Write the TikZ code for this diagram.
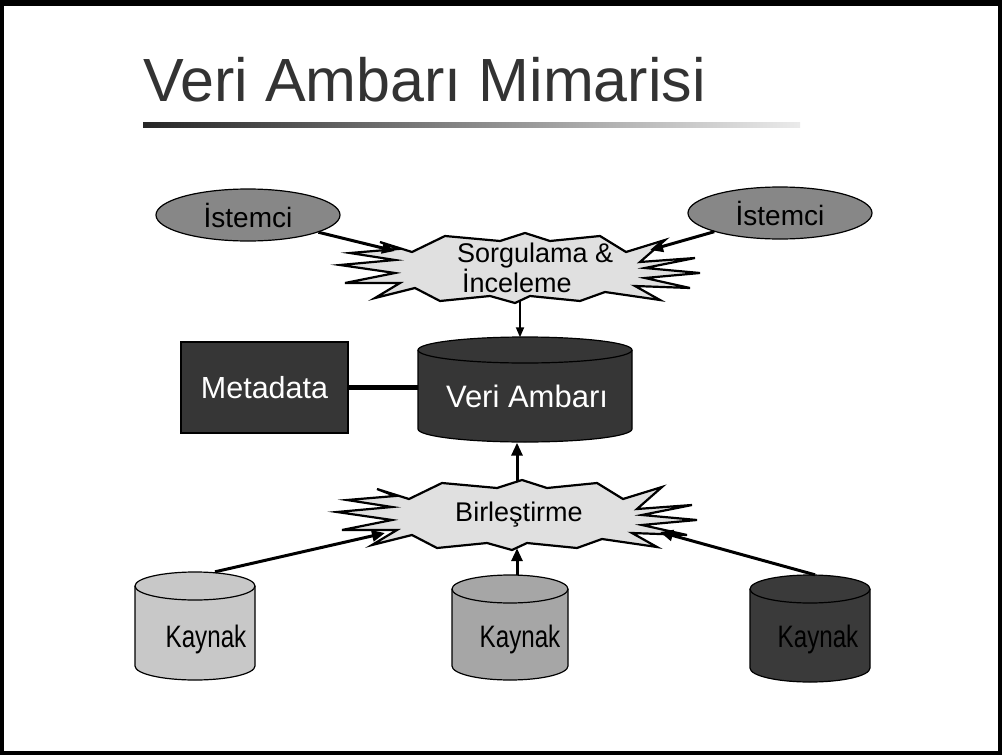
\documentclass[tikz,border=0pt]{standalone}
\usepackage{fontspec}
\setmainfont{Liberation Sans}
\usetikzlibrary{arrows.meta,shapes.geometric}
\definecolor{darkfill}{HTML}{363636}
\definecolor{ellfill}{HTML}{878787}
\definecolor{burstfill}{HTML}{E0E0E0}
\definecolor{kay1}{HTML}{C8C8C8}
\definecolor{kay2}{HTML}{A6A6A6}
\definecolor{kay3}{HTML}{3A3A3A}
\newcommand\drawcyl[6]{%
  \filldraw[fill=#6, draw=black, line width=1.2pt] (#1-#4,#2) -- (#1-#4,#3)
    arc[start angle=180,end angle=360,x radius=#4pt,y radius=#5pt] -- (#1+#4,#2)
    arc[start angle=0,end angle=180,x radius=#4pt,y radius=#5pt] -- cycle;
  \draw[line width=1.2pt] (#1-#4,#2) arc[start angle=180,end angle=360,x radius=#4pt,y radius=#5pt];
}
\tikzset{
  pics/explosion/.style={code={
    \filldraw[fill=burstfill, draw=black, line width=2.2pt, line join=miter]
      (-140,26) -- (-108,16) -- (-75,32) -- (-20,27) -- (5,35) -- (30,27) -- (80,32)
      -- (106,16) -- (145,28) -- (120,6) -- (175,10) -- (125,0) -- (180,-5)
      -- (125,-10) -- (170,-20) -- (115,-18) -- (140,-32) -- (85,-24) -- (60,-33)
      -- (10,-28) -- (-5,-35) -- (-30,-28) -- (-80,-33) -- (-105,-20) -- (-145,-30)
      -- (-120,-15) -- (-175,-15) -- (-125,-5) -- (-180,3) -- (-125,8) -- (-170,15)
      -- (-122,19) -- cycle;
  }},
  txt/.style={font=\fontsize{27}{31}\selectfont, inner sep=0pt},
  ell/.style={ellipse, draw=black, line width=1.2pt, fill=ellfill, minimum width=184pt, minimum height=52pt, inner sep=0pt, font=\fontsize{28}{30}\selectfont},
  darkbox/.style={rectangle, draw=black, line width=1.2pt, fill=darkfill, text=white, inner sep=0pt, font=\fontsize{30.5}{32}\selectfont},
  kay/.style={inner sep=0pt, font=\fontsize{31}{33}\selectfont},
  arr/.style={line width=3pt, -{Triangle[length=13pt,width=11pt]}},
  thinarr/.style={line width=1.8pt, -{Triangle[length=10pt,width=8pt]}},
}
\begin{document}
\begin{tikzpicture}[x=1pt,y=1pt]
\useasboundingbox (0,0) rectangle (1002,-755);
\fill[white] (0,0) rectangle (1002,-755);
\draw[line width=4pt] (2,-3) rectangle (1000,-753);
\draw[line width=6pt] (0,-3) -- (1002,-3);
% title
\node[anchor=base west, inner sep=0pt, text=black!80, font=\fontsize{61}{61}\selectfont] (title) at (143,-101) {Veri Ambarı Mimarisi};
\shade[left color=black!85, right color=black!8] (143,-122) rectangle (800,-127);
% bursts
\pic at (520,-268) {explosion};
\pic at (517,-515) {explosion};
\node[txt, minimum width=360pt, minimum height=66pt] (q) at (520,-268) {};
\node[txt, anchor=base west] (qtext1) at (457,-262) {Sorgulama \&};
\node[txt, anchor=base west] (qtext2) at (462,-292) {İnceleme};
\node[txt, minimum width=360pt, minimum height=66pt] (b) at (517,-515) {};
\node[txt] (btext) at (519,-515) {Birleştirme};
\coordinate (qL) at (395,-251);
\coordinate (qR) at (650,-250);
\coordinate (bL) at (385,-533);
\coordinate (bR) at (660,-532);
% clients
\node[ell] (c1) at (248,-215) {İstemci};
\node[ell] (c2) at (780,-213) {İstemci};
\draw[arr] (c1) -- (qL);
\draw[arr] (c2) -- (qR);
% warehouse
\drawcyl{525}{-350}{-429}{107}{13}{darkfill}
\node[inner sep=0pt, minimum width=214pt, minimum height=105pt] (va) at (525,-390) {};
\node[text=white, inner sep=0pt, anchor=base, font=\fontsize{31}{33}\selectfont] (vatext) at (527,-407) {Veri Ambarı};
\draw[thinarr] (q.south) -- (q.south |- va.north);
\draw[arr] (b.north) -- (b.north |- va.south);
% metadata
\node[darkbox, minimum width=167pt, minimum height=91pt] (meta) at (264.5,-387.5) {Metadata};
\draw[line width=5pt] (meta.east) -- (meta.east -| va.west);
% sources
\drawcyl{195}{-586}{-666}{60}{14}{kay1}
\drawcyl{510}{-589}{-666}{58}{14}{kay2}
\drawcyl{810}{-589}{-668}{60}{14}{kay3}
\node[inner sep=0pt, minimum width=120pt, minimum height=108pt] (k1) at (195,-626) {};
\node[inner sep=0pt, minimum width=116pt, minimum height=105pt] (k2) at (510,-627.5) {};
\node[inner sep=0pt, minimum width=120pt, minimum height=107pt] (k3) at (810,-628.5) {};
\node[kay, anchor=base] (k1text) at (206,-647) {\scalebox{0.78}[1]{Kaynak}};
\node[kay, anchor=base] (k2text) at (520,-647) {\scalebox{0.78}[1]{Kaynak}};
\node[kay, anchor=base] (k3text) at (818,-647) {\scalebox{0.78}[1]{Kaynak}};
\draw[arr] ([xshift=20pt]k1.north) -- (bL);
\draw[arr] ([xshift=7pt]k2.north) -- ([xshift=7pt]k2.north |- b.south);
\draw[arr] ([xshift=5pt]k3.north) -- (bR);
\end{tikzpicture}
\end{document}
